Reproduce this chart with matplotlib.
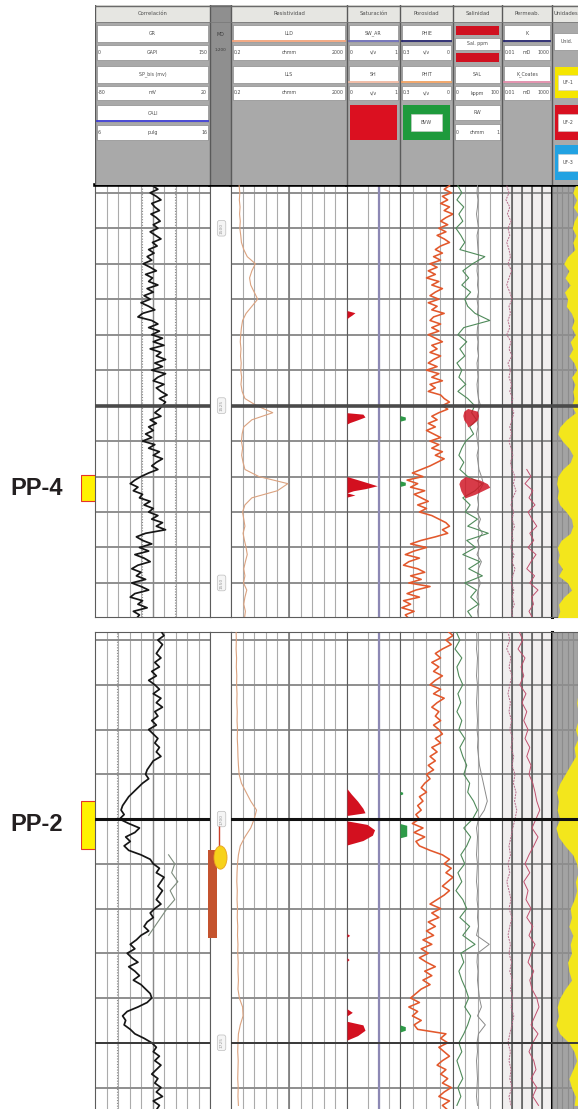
import matplotlib.pyplot as plt
import numpy as np
from matplotlib.patches import Rectangle, Ellipse

W, H = 578, 1109

# ---------------- upper interval (m) ----------------
top_depth_fine = np.arange(1494.0, 1555.01, 0.5)
top_depth = np.arange(1494, 1556)

top_gr = [75, 82, 72, 80, 86, 74, 78, 84, 73, 80,
          85, 76, 82, 72, 79, 86, 75, 81, 70, 77,
          68, 74, 63, 72, 80, 66, 75, 70, 82, 68,
          76, 64, 72, 60, 70, 78, 62, 56, 74, 82,
          70, 84, 74, 88, 76, 90, 72, 86, 80, 92,
          78, 88, 74, 92, 82, 76, 90, 80, 86, 94,
          84, 92, 88, 84, 78, 86, 72, 80, 70, 76,
          66, 74, 62, 78, 70, 84, 76, 88, 80, 74,
          82, 70, 60, 52, 46, 56, 50, 62, 58, 72,
          64, 76, 70, 82, 74, 88, 80, 92, 66, 54,
          62, 74, 58, 70, 52, 64, 72, 56, 48, 60,
          54, 66, 48, 60, 70, 52, 46, 62, 56, 68,
          50, 58, 54]
top_gr_cutoffs = [61, 104]

top_phie = [0.02, 0.05, 0.01, 0.06, 0.03, 0.07, 0.02, 0.05, 0.00, 0.04,
            0.07, 0.03, 0.08, 0.04, 0.09, 0.05, 0.02, 0.07, 0.10, 0.06,
            0.11, 0.07, 0.13, 0.09, 0.14, 0.10, 0.15, 0.08, 0.12, 0.06,
            0.10, 0.13, 0.08, 0.14, 0.09, 0.12, 0.05, 0.11, 0.13, 0.07,
            0.12, 0.08, 0.14, 0.10, 0.06, 0.12, 0.09, 0.13, 0.07, 0.11,
            0.14, 0.09, 0.15, 0.08, 0.12, 0.06, 0.13, 0.10, 0.14, 0.07,
            0.05, 0.02, 0.06, 0.03, 0.08, 0.12, 0.09, 0.14, 0.10, 0.15,
            0.11, 0.07, 0.13, 0.08, 0.12, 0.06, 0.10, 0.05, 0.09, 0.13,
            0.18, 0.23, 0.17, 0.26, 0.20, 0.24, 0.16, 0.22, 0.18, 0.14,
            0.20, 0.15, 0.19, 0.12, 0.08, 0.04, 0.02, 0.06, 0.03, 0.10,
            0.18, 0.24, 0.15, 0.22, 0.27, 0.19, 0.25, 0.28, 0.20, 0.16,
            0.24, 0.18, 0.25, 0.13, 0.21, 0.26, 0.19, 0.28, 0.24, 0.29,
            0.22, 0.27, 0.25]

top_lld = [3.5, 3.8, 3.6, 3.9, 3.7, 4.0, 3.8, 4.2, 4.5, 5.5,
           7.0, 10.5, 9.0, 8.0, 8.5, 10.0, 11.5, 9.0, 6.5, 5.0,
           4.5, 4.2, 4.0, 4.3, 4.1, 4.4, 4.2, 4.6, 4.3, 4.8,
           6.0, 11.0, 18.0, 9.0, 5.5, 4.8, 4.5, 5.0, 4.6, 5.2,
           6.0, 12.0, 24.5, 20.0, 9.0, 6.0, 5.0, 5.5, 6.0, 5.2,
           5.8, 6.5, 7.0, 6.2, 5.5, 6.0, 5.4, 6.8, 6.0, 5.5,
           6.2, 5.8]

top_sal = [10, 18, 8, 22, 12, 20, 6, 16, 24, 14,
           65, 40, 20, 32, 18, 36, 24, 30, 45, 75,
           22, 10, 28, 14, 24, 8, 18, 12, 26, 10,
           30, 44, 38, 48, 34, 42, 26, 18, 12, 22,
           14, 30, 60, 45, 20, 35, 25, 50, 30, 72,
           28, 46, 20, 55, 32, 60, 24, 48, 36, 52,
           30, 40]
top_rw = [50, 49, 51, 50, 48, 50, 52, 49, 50, 51,
          52, 50, 49, 51, 50, 52, 49, 51, 50, 53,
          50, 49, 51, 50, 52, 49, 50, 51, 49, 50,
          52, 56, 50, 49, 51, 48, 50, 52, 49, 51,
          53, 58, 62, 54, 50, 52, 49, 56, 51, 60,
          50, 54, 49, 58, 52, 50, 56, 51, 49, 53,
          50, 52]
top_salt_depth = [1525.4, 1525.8, 1526.4, 1527.0, 1527.6, 1528.0,
                  1535.0, 1535.5, 1536.0, 1536.5, 1537.0, 1537.5, 1538.0]
top_salt_lo = [30, 22, 20, 22, 28, 30, 25, 15, 12, 14, 16, 20, 25]
top_salt_hi = [30, 50, 52, 50, 40, 30, 25, 55, 70, 75, 60, 45, 25]

top_k = [0.03, 0.05, 0.025, 0.06, 0.035, 0.08, 0.04, 0.06, 0.03, 0.05,
         0.07, 0.04, 0.09, 0.05, 0.03, 0.06, 0.1, 0.05, 0.07, 0.04,
         0.06, 0.03, 0.08, 0.05, 0.1, 0.04, 0.07, 0.05, 0.09, 0.06,
         0.12, 0.08, 0.15, 0.1, 0.06, 0.09, 0.05, 0.08, 0.12, 0.07,
         0.1, 0.2, 0.14, 0.25, 0.12, 0.08, 0.15, 0.1, 0.18, 0.09,
         0.13, 0.07, 0.16, 0.1, 0.2, 0.12, 0.08, 0.15, 0.11, 0.17,
         0.09, 0.13]
top_kc_depth = np.arange(1534, 1556)
top_kc = [3, 8, 2, 12, 5, 20, 4, 10, 30, 6,
          15, 4, 25, 8, 3, 18, 6, 40, 9, 14,
          5, 12]

top_unit = [0.1, 0.2, 0.05, 0.18, 0.0, 0.15, 0.22, 0.08, 0.2, 0.12,
            0.4, 0.55, 0.35, 0.5, 0.3, 0.52, 0.4, 0.45, 0.25, 0.15,
            0.25, 0.1, 0.3, 0.2, 0.35, 0.15, 0.05, 0.25, 0.12, 0.2,
            0.15, 0.25, 0.1, 0.45, 0.7, 0.78, 0.6, 0.35, 0.2, 0.3,
            0.6, 0.78, 0.82, 0.75, 0.8, 0.7, 0.45, 0.25, 0.2, 0.3,
            0.65, 0.8, 0.72, 0.78, 0.6, 0.75, 0.4, 0.25, 0.55, 0.75,
            0.7, 0.8]

top_sw_depth = [1494, 1511.6, 1511.9, 1512.2, 1512.6, 1512.8, 1526.0, 1526.2, 1526.6,
                1527.0, 1527.4, 1527.6, 1535.0, 1535.4, 1535.9, 1536.3, 1536.7,
                1537.0, 1537.3, 1537.6, 1537.9, 1555]
top_sw = [0, 0, 0.15, 0.10, 0.02, 0, 0, 0.30, 0.34, 0.20, 0.05, 0, 0, 0.18, 0.40,
          0.57, 0.35, 0.12, 0.0, 0.15, 0, 0]

top_bvw_depth = [1526.4, 1526.6, 1527.0, 1527.2, 1535.6, 1535.8, 1536.2, 1536.4]
top_bvw = [0.3, 0.27, 0.27, 0.3, 0.3, 0.27, 0.27, 0.3]

# ---------------- lower interval (m) ----------------
bot_depth_fine = np.arange(1679.0, 1733.01, 0.5)
bot_depth = np.arange(1679, 1733)

bot_gr = [86, 90, 82, 88, 84, 80, 86, 78, 84, 74,
          80, 70, 78, 84, 76, 86, 80, 88, 78, 82,
          74, 80, 70, 76, 82, 78, 84, 80, 86, 76,
          72, 68, 66, 70, 62, 56, 50, 44, 40, 36,
          34, 38, 32, 44, 58, 52, 40, 46, 38, 44,
          60, 72, 76, 84, 80, 90, 86, 82, 88, 84,
          80, 86, 78, 72, 76, 68, 64, 70, 60, 54,
          46, 52, 42, 48, 56, 44, 52, 58, 50, 60,
          66, 72, 74, 68, 56, 42, 36, 40, 38, 46,
          52, 64, 74, 80, 76, 84, 78, 86, 80, 74,
          82, 78, 86, 80, 88, 76, 84, 80, 86]
bot_gr_cutoffs = [29]
bot_sp_depth = np.arange(1704, 1714)
bot_sp = [96, 104, 100, 108, 98, 104, 94, 86, 78, 70]

bot_phie = [0.03, 0.0, 0.04, 0.01, 0.06, 0.10, 0.07, 0.12, 0.08, 0.11,
            0.06, 0.10, 0.13, 0.07, 0.11, 0.05, 0.09, 0.12, 0.08, 0.10,
            0.07, 0.11, 0.08, 0.06, 0.10, 0.07, 0.12, 0.09, 0.13, 0.10,
            0.14, 0.11, 0.15, 0.13, 0.16, 0.18, 0.15, 0.19, 0.17, 0.20,
            0.18, 0.21, 0.19, 0.23, 0.17, 0.22, 0.16, 0.21, 0.19, 0.13,
            0.06, 0.02, 0.05, 0.01, 0.04, 0.0, 0.03, 0.06, 0.02, 0.05,
            0.09, 0.13, 0.07, 0.12, 0.08, 0.14, 0.10, 0.15, 0.11, 0.17,
            0.12, 0.18, 0.14, 0.19, 0.15, 0.10, 0.16, 0.12, 0.17, 0.13,
            0.18, 0.21, 0.24, 0.19, 0.25, 0.20, 0.23, 0.18, 0.22, 0.20,
            0.04, 0.07, 0.03, 0.08, 0.05, 0.02, 0.06, 0.09, 0.04, 0.07,
            0.03, 0.06, 0.01, 0.05, 0.08, 0.02, 0.06, 0.03, 0.05]

bot_lld = [2.2, 2.3, 2.2, 2.4, 2.3, 2.5, 2.4, 2.6, 2.5, 2.7,
           2.6, 2.8, 2.7, 2.9, 3.0, 3.2, 3.5, 4.5, 6.5, 8.5,
           11.0, 10.0, 8.5, 6.0, 4.0, 3.2, 2.8, 2.6, 2.5, 2.7,
           2.6, 2.8, 2.7, 2.9, 2.8, 3.0, 2.9, 3.1, 3.0, 3.2,
           3.0, 3.6, 5.0, 5.2, 4.0, 3.2, 3.0, 2.9, 3.1, 3.0,
           2.9, 3.1, 3.0, 3.2]

bot_sal = [6, 14, 4, 18, 8, 12, 20, 10, 16, 8,
           18, 12, 24, 14, 20, 28, 22, 34, 30, 42,
           50, 40, 22, 36, 28, 16, 24, 10, 18, 6,
           20, 28, 14, 34, 20, 45, 16, 22, 12, 18,
           26, 32, 24, 36, 30, 22, 12, 18, 8, 14,
           20, 10, 16, 8]
bot_rw = [48, 49, 48, 50, 49, 48, 50, 49, 48, 49,
          50, 49, 51, 50, 52, 54, 58, 62, 66, 70,
          64, 52, 48, 50, 49, 48, 50, 49, 48, 50,
          49, 51, 50, 52, 48, 74, 50, 49, 51, 50,
          52, 54, 58, 50, 66, 52, 49, 50, 48, 49,
          50, 49, 48, 50]

bot_k = [0.04, 0.06, 0.03, 0.08, 0.05, 0.1, 0.06, 0.04, 0.07, 0.05,
         0.09, 0.06, 0.12, 0.08, 0.15, 0.1, 0.2, 0.14, 0.25, 0.18,
         0.3, 0.2, 0.12, 0.08, 0.05, 0.07, 0.04, 0.06, 0.03, 0.05,
         0.08, 0.05, 0.1, 0.06, 0.04, 0.07, 0.05, 0.09, 0.06, 0.11,
         0.07, 0.12, 0.08, 0.15, 0.1, 0.06, 0.04, 0.07, 0.05, 0.08,
         0.06, 0.1, 0.05, 0.08]
bot_kc_depth = np.arange(1679, 1733)
bot_kc = [0.5, 1.2, 0.4, 2.0, 0.8, 1.5, 0.6, 2.5, 1.0, 3.0,
          1.5, 4.0, 2.0, 6.0, 3.0, 8.0, 5.0, 12, 20, 30,
          60, 25, 10, 40, 15, 5.0, 2.0, 6.0, 1.5, 4.0,
          2.5, 8.0, 3.0, 12, 5.0, 20, 8.0, 4.0, 15, 6.0,
          10, 30, 50, 20, 8.0, 40, 12, 5.0, 15, 25,
          8.0, 30, 12, 45]

bot_unit = [0, 0, 0, 0, 0, 0, 0, 0, 0.05, 0,
            0, 0.1, 0, 0.15, 0.1, 0.3, 0.5, 0.7, 0.82, 0.75,
            0.8, 0.7, 0.85, 0.75, 0.5, 0.2, 0.05, 0, 0.1, 0.05,
            0.15, 0.3, 0.25, 0.35, 0.2, 0.3, 0.25, 0.4, 0.35, 0.25,
            0.5, 0.7, 0.8, 0.75, 0.85, 0.7, 0.35, 0.15, 0.05, 0.2,
            0.35, 0.25, 0.1, 0.15]

bot_sw_depth = [1679, 1696.6, 1697.2, 1698.0, 1698.8, 1699.3, 1699.6, 1700.2, 1700.6,
                1701.2, 1701.8, 1702.4, 1702.9, 1712.8, 1713.0, 1713.2, 1715.5,
                1715.7, 1715.9, 1721.2, 1721.6, 1722.0, 1722.6, 1723.0, 1723.6,
                1724.2, 1724.7, 1733]
bot_sw = [0, 0, 0.08, 0.2, 0.3, 0.34, 0.0, 0.0, 0.38, 0.52, 0.48, 0.30, 0, 0, 0.05,
          0, 0, 0.04, 0, 0, 0.1, 0, 0, 0.3, 0.34, 0.2, 0, 0]

bot_bvw_depth = [1696.9, 1697.0, 1697.2, 1697.3, 1700.5, 1700.7, 1701.9, 1702.1,
                 1723.0, 1723.2, 1723.6, 1723.8]
bot_bvw = [0.3, 0.285, 0.285, 0.3, 0.3, 0.262, 0.262, 0.3, 0.3, 0.27, 0.27, 0.3]

core_top, core_base = 1703.5, 1713.3
show_depth, show_size = 1704.3, 2.6
show_tick_top = 1700.8

# track columns, pixel extents
TRACKS = {'gr': (95, 210), 'depth': (210, 231), 'res': (231, 347), 'sat': (347, 400),
          'phi': (400, 453), 'sal': (453, 502), 'perm': (502, 552), 'unit': (552, 578)}

fig = plt.figure(figsize=(W / 100, H / 100), dpi=100)
fig.patch.set_facecolor('white')


def add_px_axes(x0, y0, x1, y1):
    return fig.add_axes([x0 / W, 1 - y1 / H, (x1 - x0) / W, (y1 - y0) / H])


def panel(y0, y1, dtop, dbase, grid_depths, depth_labels, marks, fine, dep,
          gr, gr_cut, lld, phie, sal, rw, k, kc_dep, kc, unit,
          sw_dep, sw, bvw_dep, bvw, pp_name, pp_top, pp_base, bold_top):
    axes = {}
    for key, (x0, x1) in TRACKS.items():
        ax = add_px_axes(x0, y0, x1, y1)
        ax.set_ylim(dbase, dtop)
        for s in ax.spines.values():
            s.set_color('#5c5c5c')
            s.set_linewidth(0.8)
        if bold_top:
            ax.spines['top'].set_color('black')
            ax.spines['top'].set_linewidth(2.6)
        if y1 >= H:
            ax.spines['bottom'].set_visible(False)
        axes[key] = ax

    axes['gr'].set_xlim(0, 150)
    axes['gr'].set_xticks(range(15, 150, 15))
    axes['res'].set_xlim(0, 50)
    axes['res'].set_xticks(range(5, 50, 5))
    axes['sat'].set_xlim(0, 1)
    axes['sat'].set_xticks([0.4, 0.6, 0.8])
    axes['phi'].set_xlim(0.3, 0)
    axes['phi'].set_xticks([0.225, 0.15, 0.075])
    axes['sal'].set_xlim(0, 100)
    axes['sal'].set_xticks([25, 50, 75])
    axes['perm'].set_xscale('log')
    axes['perm'].set_xlim(0.01, 1000)
    axes['perm'].set_xticks([0.1, 1, 10, 100])
    axes['perm'].set_facecolor('#f1efef')
    axes['perm'].spines['right'].set_color('black')
    axes['perm'].spines['right'].set_linewidth(2.2)
    axes['unit'].set_xlim(1, 0)
    axes['unit'].set_xticks([0.2, 0.4, 0.6, 0.8])
    axes['unit'].set_facecolor('#a3a3a3')

    for key, ax in axes.items():
        ax.minorticks_off()
        ax.tick_params(length=0, labelbottom=False, labelleft=False)
        if key == 'depth':
            ax.set_xlim(0, 1)
            ax.set_xticks([])
            ax.set_yticks([])
            continue
        ax.set_yticks(grid_depths)
        ax.grid(True, axis='y', color='#8e8e8e', lw=1.4)
        ax.grid(True, axis='x', color='#ababab' if key != 'unit' else '#8c8c8c', lw=0.8)
        ax.set_axisbelow(True)
        for d, c, lw in marks:
            ax.axhline(d, color=c, lw=lw, zorder=5)

    axes['gr'].axvline(75, color='#8a8a8a', lw=1.0, zorder=1)
    axes['res'].axvline(25, color='#7a7a7a', lw=1.2, zorder=1)
    axes['sat'].axvline(0.6, color='#8c88b4', lw=1.6, zorder=1)
    for v in [0.1, 1, 10, 100]:
        axes['perm'].axvline(v, color='#555555', lw=1.1, zorder=1)

    # gamma ray
    ax = axes['gr']
    for c in gr_cut:
        ax.axvline(c, color='#8a8a8a', lw=0.8, ls=(0, (1, 1.5)), zorder=2)
    ax.plot(gr, fine, color='#161616', lw=1.25, zorder=3)

    # resistivity
    axes['res'].plot(lld, dep, color='#dba27f', lw=0.8, zorder=3)

    # water saturation
    axes['sat'].fill_betweenx(sw_dep, 0, sw, color='#d3101f', lw=0, zorder=3)

    # porosity
    ax = axes['phi']
    ax.fill_betweenx(bvw_dep, 0.3, bvw, color='#2e9a48', lw=0, zorder=3)
    ax.plot(phie, fine, color='#e2582c', lw=1.15, zorder=3)

    # salinity
    ax = axes['sal']
    ax.plot(rw, dep, color='#8a8a8a', lw=0.7, zorder=3)
    ax.plot(sal, dep, color='#4f8a5a', lw=0.8, zorder=3)

    # permeability
    ax = axes['perm']
    ax.plot(k, dep, color='#b56a88', lw=0.7, ls=(0, (2, 1)), zorder=3)
    ax.plot(kc, kc_dep, color='#c0506e', lw=0.7, zorder=3)

    # flow units
    axes['unit'].fill_betweenx(dep, 0, unit, color='#f3e61c', lw=0, zorder=3)

    # depth labels
    ax = axes['depth']
    for d in depth_labels:
        ax.text(0.55, d, str(d), rotation=90, fontsize=3.2, color='#9a9a9a',
                ha='center', va='center',
                bbox=dict(boxstyle='round,pad=0.5', fc='#f5f5f5', ec='#bdbdbd', lw=0.5))

    # tested interval tag at the left margin
    lab = add_px_axes(81, y0, 95, y1)
    lab.set_ylim(dbase, dtop)
    lab.set_xlim(0, 1)
    lab.axis('off')
    lab.bar(0.5, pp_base - pp_top, bottom=pp_top, width=1.0, color='#fff200',
            edgecolor='#e4342a', lw=0.8)
    lab.text(-1.3, (pp_top + pp_base) / 2, pp_name, transform=lab.get_yaxis_transform(),
             ha='right', va='center', fontsize=17, fontweight='bold',
             family='Liberation Sans', color='#231f20')
    return axes


top_axes = panel(185, 617, 1493.9, 1554.8, range(1495, 1555, 5), [1500, 1525, 1550],
                 [(1525, '#4a4a4a', 2.6)], top_depth_fine, top_depth,
                 top_gr, top_gr_cutoffs, top_lld, top_phie, top_sal, top_rw,
                 top_k, top_kc_depth, top_kc, top_unit, top_sw_depth, top_sw,
                 top_bvw_depth, top_bvw, 'PP-4', 1534.8, 1538.5, True)
top_axes['sal'].fill_betweenx(top_salt_depth, top_salt_lo, top_salt_hi,
                              color='#d01828', alpha=0.85, lw=0, zorder=4)

bot_axes = panel(632, 1109, 1679.1, 1732.4, range(1680, 1733, 5), [1700, 1725],
                 [(1700, '#111111', 2.2), (1725, '#3a3a3a', 1.4)],
                 bot_depth_fine, bot_depth, bot_gr, bot_gr_cutoffs, bot_lld, bot_phie,
                 bot_sal, bot_rw, bot_k, bot_kc_depth, bot_kc, bot_unit,
                 bot_sw_depth, bot_sw, bot_bvw_depth, bot_bvw, 'PP-2', 1698.0, 1703.3, False)
bot_axes['gr'].plot(bot_sp, bot_sp_depth, color='#7d8c7d', lw=0.8, zorder=3)

# core and show in the depth column
ax = bot_axes['depth']
ax.bar(0.12, core_base - core_top, bottom=core_top, width=0.42, color='#c4532e',
       lw=0, zorder=3, clip_on=False)
ax.vlines(0.45, show_tick_top, show_depth, color='#c8402a', lw=1.0, zorder=3)
ax.add_patch(Ellipse((0.5, show_depth), 0.62, show_size, fc='#f7d21a',
                     ec='#e8a020', lw=0.6, zorder=4))

# ---------------- header ----------------
hx = add_px_axes(95, 5, 578, 185)
hx.set_xlim(95, 578)
hx.set_ylim(185, 5)
hx.axis('off')
hx.add_patch(Rectangle((95, 5), 483, 180, fc='#a9a9a9', ec='none'))
hx.add_patch(Rectangle((95, 5), 483, 17, fc='#e6e6e2', ec='none'))
hx.add_patch(Rectangle((210, 5), 21, 180, fc='#8f8f8f', ec='none'))

titles = {'gr': 'Correlación', 'res': 'Resistividad', 'sat': 'Saturación',
          'phi': 'Porosidad', 'sal': 'Salinidad', 'perm': 'Permeab.', 'unit': 'Unidades'}
TXT = dict(fontsize=3.4, color='#4d4d4d', va='center')


def name_box(x0, x1, y0, y1, text, line=None):
    hx.add_patch(Rectangle((x0 + 2, y0), x1 - x0 - 4, y1 - y0, fc='white', ec='#7a7a7a', lw=0.4))
    hx.text((x0 + x1) / 2, (y0 + y1) / 2, text, ha='center', **TXT)
    if line:
        hx.plot([x0 + 2, x1 - 2], [y1 - 1.2, y1 - 1.2], color=line, lw=1.3)


def scale_row(x0, x1, y0, y1, lo, unit, hi):
    hx.add_patch(Rectangle((x0 + 2, y0), x1 - x0 - 4, y1 - y0, fc='white', ec='#7a7a7a', lw=0.4))
    ym = (y0 + y1) / 2
    hx.text(x0 + 3, ym, lo, ha='left', **TXT)
    hx.text((x0 + x1) / 2, ym, unit, ha='center', **TXT)
    hx.text(x1 - 3, ym, hi, ha='right', **TXT)


def color_block(x0, x1, y0, y1, color, text=''):
    hx.add_patch(Rectangle((x0 + 3, y0), x1 - x0 - 6, y1 - y0, fc=color, ec='none'))
    if text:
        w = x1 - x0
        hx.add_patch(Rectangle((x0 + w * 0.2, y0 + (y1 - y0) * 0.25), w * 0.6, (y1 - y0) * 0.5,
                               fc='white', ec='#cccccc', lw=0.4))
        hx.text((x0 + x1) / 2, (y0 + y1) / 2, text, ha='center', **TXT)


for key, (x0, x1) in TRACKS.items():
    if key in titles:
        hx.text((x0 + x1) / 2 if key != 'unit' else x0 + 2, 13.5, titles[key],
                ha='center' if key != 'unit' else 'left', fontsize=3.8, color='#4d4d4d',
                va='center', clip_on=True)
    hx.axvline(x0, color='#5a5a5a', lw=1.0)

x0, x1 = TRACKS['gr']
name_box(x0, x1, 25, 42, 'GR')
scale_row(x0, x1, 45, 60, '0', 'GAPI', '150')
name_box(x0, x1, 66, 83, 'SP_bis (mv)')
scale_row(x0, x1, 86, 100, '-80', 'mV', '20')
name_box(x0, x1, 105, 122, 'CALI', '#3a3ad0')
scale_row(x0, x1, 125, 140, '6', 'pulg', '16')

hx.text(220.5, 34, 'MD', ha='center', fontsize=3.4, color='#3a3a3a', va='center')
hx.text(220.5, 50, '1:200', ha='center', fontsize=3.0, color='#3a3a3a', va='center')

x0, x1 = TRACKS['res']
name_box(x0, x1, 25, 42, 'LLD', '#f2a27a')
scale_row(x0, x1, 45, 60, '0.2', 'ohmm', '2000')
name_box(x0, x1, 66, 83, 'LLS')
scale_row(x0, x1, 86, 100, '0.2', 'ohmm', '2000')

x0, x1 = TRACKS['sat']
name_box(x0, x1, 25, 42, 'SW_AR', '#6a6ab4')
scale_row(x0, x1, 45, 60, '0', 'v/v', '1')
name_box(x0, x1, 66, 83, 'SH', '#f0b8a0')
scale_row(x0, x1, 86, 100, '0', 'v/v', '1')
color_block(x0, x1, 105, 140, '#db1020')

x0, x1 = TRACKS['phi']
name_box(x0, x1, 25, 42, 'PHIE', '#22226a')
scale_row(x0, x1, 45, 60, '0.3', 'v/v', '0')
name_box(x0, x1, 66, 83, 'PHIT', '#f0a060')
scale_row(x0, x1, 86, 100, '0.3', 'v/v', '0')
color_block(x0, x1, 105, 140, '#1e9a3c', 'BVW')

x0, x1 = TRACKS['sal']
color_block(x0, x1, 26, 35, '#d01020')
name_box(x0, x1, 38, 50, 'Sal. ppm')
color_block(x0, x1, 53, 62, '#d01020')
name_box(x0, x1, 66, 83, 'SAL')
scale_row(x0, x1, 86, 100, '0', 'kppm', '100')
name_box(x0, x1, 105, 120, 'RW')
scale_row(x0, x1, 124, 140, '0', 'ohmm', '1')

x0, x1 = TRACKS['perm']
name_box(x0, x1, 25, 42, 'K', '#22226a')
scale_row(x0, x1, 45, 60, '0.01', 'mD', '1000')
name_box(x0, x1, 66, 83, 'K_Coates', '#e08aa8')
scale_row(x0, x1, 86, 100, '0.01', 'mD', '1000')

x0, x1 = TRACKS['unit']
name_box(x0, x1 + 4, 33, 50, 'Unid.')
color_block(x0, x1 + 6, 67, 98, '#f5e600', 'UF-1')
color_block(x0, x1 + 6, 105, 140, '#d81020', 'UF-2')
color_block(x0, x1 + 6, 145, 180, '#22a2e2', 'UF-3')

hx.axhline(5.5, color='#6a6a6a', lw=1.0)
hx.axhline(22, color='#7a7a7a', lw=0.6)

fig.savefig('out.png', dpi=100, facecolor='white')
